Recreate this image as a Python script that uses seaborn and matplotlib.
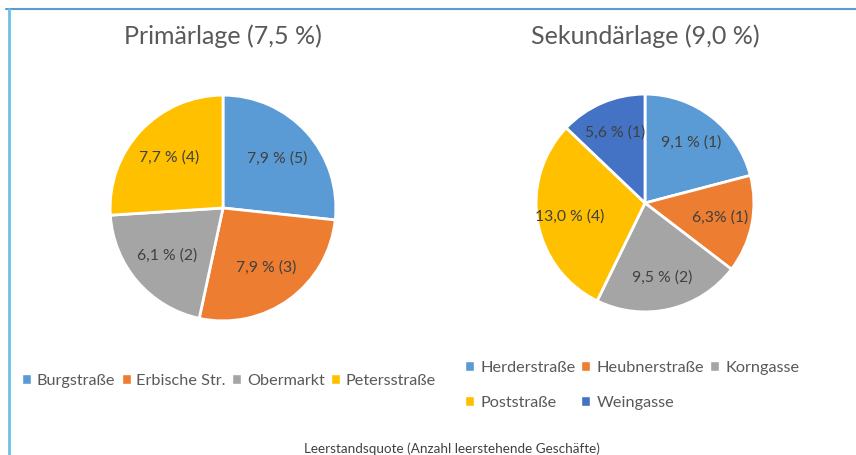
import matplotlib
matplotlib.use("Agg")
import matplotlib.pyplot as plt
import seaborn as sns
from matplotlib.patches import Patch
from matplotlib.lines import Line2D

# Primärlage
prim_streets = ["Burgstraße", "Erbische Str.", "Obermarkt", "Petersstraße"]
prim_quote = [7.9, 7.9, 6.1, 7.7]
prim_anzahl = [5, 3, 2, 4]
prim_labels = ["7,9 % (5)", "7,9 % (3)", "6,1 % (2)", "7,7 % (4)"]

# Sekundärlage
sek_streets = ["Herderstraße", "Heubnerstraße", "Korngasse", "Poststraße", "Weingasse"]
sek_quote = [9.1, 6.3, 9.5, 13.0, 5.6]
sek_anzahl = [1, 1, 2, 4, 1]
sek_labels = ["9,1 % (1)", "6,3% (1)", "9,5 % (2)", "13,0 % (4)", "5,6 % (1)"]

sns.set_theme(style="white")
plt.rcParams["font.family"] = ["Lato", "DejaVu Sans"]

colors = sns.color_palette(["#5B9BD5", "#ED7D31", "#A5A5A5", "#FFC000", "#4472C4"])
text_col = "#595959"
W, H = 856, 455

fig = plt.figure(figsize=(W / 100, H / 100), dpi=100)


def pie_axes(cx, cy, r):
    return fig.add_axes([(cx - r) / W, 1 - (cy + r) / H, 2 * r / W, 2 * r / H])


def draw_pie(ax, values, labels, dist):
    wedges, texts = ax.pie(values, labels=labels, colors=colors[:len(values)],
                           startangle=90, counterclock=False, labeldistance=dist,
                           wedgeprops=dict(edgecolor="white", linewidth=2),
                           textprops=dict(color="#404040", fontsize=11.3))
    for t in texts:
        t.set_ha("center")
        t.set_va("center")
    ax.set_xlim(-1.01, 1.01)
    ax.set_ylim(-1.01, 1.01)
    return wedges


ax1 = pie_axes(223, 208, 114)
draw_pie(ax1, prim_quote, prim_labels, 0.65)
ax2 = pie_axes(645, 203, 110)
draw_pie(ax2, sek_quote, sek_labels, 0.7)

fig.text(223 / W, 1 - 36 / H, "Primärlage (7,5 %)", ha="center", va="center",
         fontsize=18, color=text_col)
fig.text(645 / W, 1 - 36 / H, "Sekundärlage (9,0 %)", ha="center", va="center",
         fontsize=18, color=text_col)

h1 = [Patch(facecolor=colors[i], label=s) for i, s in enumerate(prim_streets)]
fig.legend(handles=h1, ncol=4, loc="center", bbox_to_anchor=(229 / W, 1 - 381 / H),
           frameon=False, fontsize=11.7, labelcolor=text_col, handlelength=0.55,
           handleheight=0.55, handletextpad=0.35, columnspacing=0.4)

# legend fills columns first, so reorder to get row-wise order
h2 = [Patch(facecolor=colors[i], label=s) for i, s in enumerate(sek_streets)]
order = [0, 3, 1, 4, 2]
fig.legend(handles=[h2[i] for i in order], ncol=3, loc="center",
           bbox_to_anchor=(632 / W, 1 - 385.5 / H),
           frameon=False, fontsize=11.7, labelcolor=text_col, handlelength=0.55,
           handleheight=0.55, handletextpad=0.4, columnspacing=0.35, labelspacing=1.3)

fig.text(452 / W, 1 - 449 / H, "Leerstandsquote (Anzahl leerstehende Geschäfte)",
         ha="center", va="center", fontsize=9.7, color="#404040")

# frame lines of the original chart area
fig.add_artist(Line2D([6 / W, 1], [1 - 9 / H, 1 - 9 / H], color="#5B9BD5", lw=1.5))
fig.add_artist(Line2D([8.5 / W, 8.5 / W], [0, 1 - 9 / H], color="#70C0E0", lw=2))

fig.savefig("out.png", dpi=100)
